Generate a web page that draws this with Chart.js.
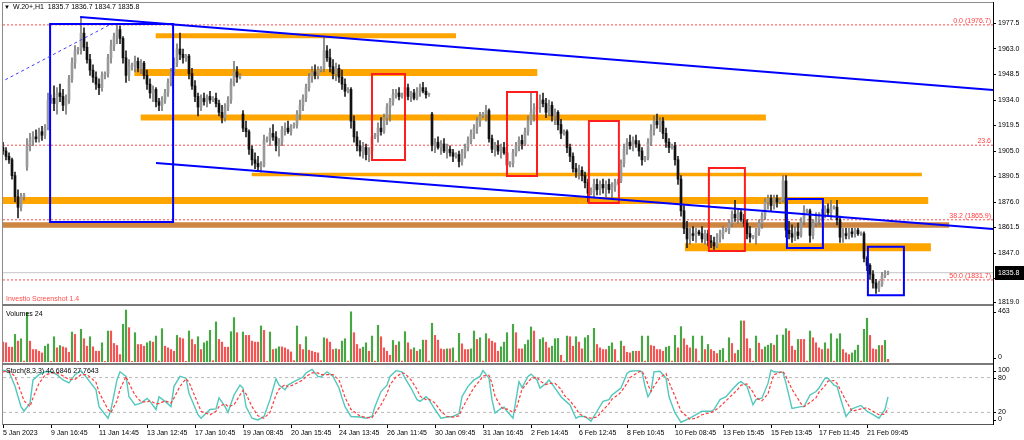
<!DOCTYPE html>
<html><head><meta charset="utf-8">
<script src="https://cdn.jsdelivr.net/npm/chart.js"></script>
<style>
html,body{margin:0;padding:0;background:#fff}
body{position:relative;width:1024px;height:440px;overflow:hidden;font-family:"Liberation Sans",Arial,sans-serif}
canvas{position:absolute;left:0}
.t{position:absolute;font-size:7px;line-height:8px;white-space:nowrap;color:#000}
.ln{position:absolute}
</style></head><body>
<canvas id="cMain" width="1024" height="306" style="top:0px"></canvas>
<canvas id="cVol" width="1024" height="56" style="top:307px"></canvas>
<canvas id="cSto" width="1024" height="76" style="top:364px"></canvas>
<div class="ln" style="left:2px;top:2px;width:992px;height:1px;background:#8c8c8c"></div>
<div class="ln" style="left:2px;top:2px;width:1px;height:423px;background:#8c8c8c"></div>
<div class="ln" style="left:2px;top:304px;width:992px;height:2px;background:#7a7a7a"></div>
<div class="ln" style="left:2px;top:363px;width:992px;height:2px;background:#7a7a7a"></div>
<div class="ln" style="left:993px;top:2px;width:1px;height:423px;background:#000"></div>
<div class="t" style="left:4px;top:3px;font-size:6px">&#9660;</div>
<div class="t" style="left:13px;top:3px">W.20+,H1&nbsp; 1835.7 1836.7 1834.7 1835.8</div>
<div class="t" style="left:6px;top:295px;color:#ff4d4d">Investio Screenshot 1.4</div>
<div class="t" style="left:6px;top:310px">Volumes 24</div>
<div class="t" style="left:6px;top:367px">Stoch(8,3,3) 46.6846 27.7643</div>
<script>
// ---------------- DATA ----------------
const opens = [1907,1905,1902,1900,1891,1879,1873,1879,
1896,1908,1911,1913,1912,1916,1914,1918,1934,
1935,1932,1938,1936,1931,1934,1946,1955,1962,
1963,1972,1964,1957,1951,1947,1943,1941,1948,
1949,1958,1965,1970,1974,1969,1958,1948,1953,
1954,1956,1952,1955,1948,1943,1938,1940,1933,
1931,1934,1938,1944,1950,1955,1963,1960,1958,
1959,1949,1942,1936,1930,1935,1933,1936,1934,
1935,1932,1927,1924,1930,1934,1944,1950,1947,
1926,1918,1916,1906,1900,1898,1896,1897,1911,
1912,1915,1913,1908,1910,1917,1918,1916,1919,
1920,1926,1931,1935,1941,1947,1950,1948,1951,
1952,1962,1958,1953,1949,1952,1947,1943,1939,
1940,1922,1913,1908,1905,1907,1903,1905,1913,
1914,1918,1916,1924,1930,1933,1937,1938,1936,
1937,1941,1936,1938,1935,1939,1941,1939,1937,
1926,1908,1910,1907,1909,1905,1906,1904,1902,
1903,1899,1904,1907,1911,1915,1918,1922,1925,
1926,1928,1912,1906,1908,1905,1907,1904,1897,
1898,1904,1908,1911,1909,1916,1922,1927,1929,
1930,1934,1932,1927,1931,1925,1927,1920,1915,
1916,1907,1902,1895,1893,1894,1891,1887,1881,
1882,1886,1883,1886,1884,1886,1883,1885,1887,
1888,1898,1906,1910,1908,1911,1909,1905,1900,
1901,1910,1917,1922,1920,1922,1915,1910,1907,
1908,1900,1889,1871,1861,1855,1858,1857,1859,
1858,1855,1858,1854,1853,1851,1856,1858,1860,
1860,1864,1869,1867,1870,1866,1864,1858,1856,
1856,1859,1864,1868,1876,1878,1874,1878,1876,
1877,1888,1860,1858,1856,1859,1857,1865,1871,
1871,1857,1864,1866,1868,1870,1872,1870,1873,
1873,1866,1856,1858,1857,1859,1858,1860,1858,
1858,1844,1840,1835,1830,1827,1829,1834,1835.7];

const highs = [1910,1907,1904,1901,1893,1883,1881,1881,
1912,1915,1916,1917,1918,1919,1920,1938,1937,
1942,1941,1943,1940,1937,1948,1958,1965,1964,
1981,1975,1967,1960,1954,1950,1946,1950,1950,
1960,1968,1972,1977,1976,1970,1962,1957,1955,
1959,1958,1957,1956,1951,1946,1942,1941,1935,
1936,1940,1946,1952,1958,1966,1972,1963,1960,
1960,1952,1945,1938,1937,1938,1937,1939,1936,
1938,1934,1931,1932,1936,1946,1956,1953,1949,
1928,1922,1917,1908,1904,1902,1899,1914,1913,
1918,1920,1916,1912,1919,1921,1922,1920,1921,
1928,1934,1937,1943,1949,1953,1954,1953,1953,
1969,1965,1963,1957,1955,1954,1951,1946,1941,
1941,1925,1916,1911,1910,1909,1907,1915,1915,
1921,1924,1926,1932,1935,1940,1940,1941,1938,
1944,1943,1939,1940,1941,1943,1944,1941,1938,
1927,1912,1913,1911,1912,1909,1908,1906,1904,
1905,1906,1909,1913,1917,1920,1924,1927,1927,
1931,1929,1914,1910,1911,1909,1910,1905,1899,
1906,1910,1913,1914,1918,1925,1939,1932,1931,
1937,1938,1935,1934,1933,1929,1928,1923,1917,
1917,1909,1904,1898,1897,1896,1893,1889,1884,
1889,1889,1888,1889,1888,1889,1887,1889,1889,
1900,1909,1912,1914,1913,1914,1911,1907,1902,
1912,1920,1925,1926,1924,1924,1918,1912,1909,
1910,1902,1891,1874,1865,1861,1862,1861,1860,
1862,1860,1860,1857,1856,1858,1860,1862,1861,
1866,1871,1877,1872,1872,1869,1866,1862,1857,
1861,1866,1870,1878,1880,1880,1880,1880,1878,
1891,1891,1865,1863,1862,1864,1867,1874,1872,
1872,1866,1870,1870,1872,1874,1875,1877,1874,
1877,1868,1861,1861,1861,1861,1861,1861,1859,
1859,1845,1841,1837,1832,1831,1836,1837,1836.7];

const lows = [1903,1900,1898,1889,1876,1867,1871,1877,
1894,1905,1908,1910,1910,1911,1912,1917,1932,
1928,1926,1933,1928,1926,1932,1944,1952,1960,
1960,1962,1955,1948,1944,1940,1937,1939,1946,
1947,1955,1962,1966,1966,1955,1944,1945,1951,
1950,1950,1949,1946,1940,1935,1933,1930,1928,
1928,1932,1936,1942,1948,1953,1957,1955,1956,
1946,1940,1933,1925,1928,1931,1930,1932,1933,
1930,1925,1921,1922,1928,1932,1942,1944,1946,
1916,1913,1903,1897,1895,1894,1893,1896,1910,
1908,1911,1905,1902,1908,1914,1915,1914,1918,
1918,1923,1928,1933,1939,1944,1946,1946,1950,
1950,1956,1950,1946,1945,1944,1940,1936,1938,
1918,1910,1905,1902,1901,1900,1899,1904,1912,
1910,1914,1915,1920,1922,1931,1935,1934,1935,
1935,1934,1933,1934,1934,1936,1938,1935,1936,
1905,1904,1906,1903,1904,1901,1902,1899,1901,
1896,1897,1901,1905,1909,1912,1915,1919,1924,
1922,1910,1904,1902,1903,1901,1903,1892,1896,
1896,1902,1905,1906,1908,1914,1920,1922,1928,
1927,1930,1924,1925,1922,1920,1917,1912,1914,
1904,1899,1893,1890,1889,1888,1884,1876,1880,
1879,1880,1880,1881,1879,1881,1878,1882,1886,
1887,1896,1903,1906,1905,1907,1902,1897,1899,
1900,1908,1914,1918,1916,1912,1907,1904,1906,
1897,1886,1868,1858,1850,1852,1854,1853,1857,
1853,1852,1851,1850,1849,1850,1853,1855,1859,
1858,1862,1865,1864,1865,1862,1855,1853,1855,
1852,1857,1861,1866,1872,1871,1872,1873,1875,
1876,1856,1855,1853,1854,1855,1856,1863,1870,
1853,1855,1862,1863,1865,1867,1868,1866,1872,
1863,1853,1853,1855,1855,1856,1856,1857,1857,
1842,1837,1832,1827,1824,1825,1828,1833,1834.7];

const closes = [1905,1902,1900,1891,1879,1873,1879,1880,
1908,1911,1913,1912,1916,1914,1918,1934,1935,
1932,1938,1936,1931,1934,1946,1955,1962,1963,
1972,1964,1957,1951,1947,1943,1941,1948,1949,
1958,1965,1970,1974,1969,1958,1948,1953,1954,
1956,1952,1955,1948,1943,1938,1940,1933,1931,
1934,1938,1944,1950,1955,1963,1960,1958,1959,
1949,1942,1936,1930,1935,1933,1936,1934,1935,
1932,1927,1924,1930,1934,1944,1950,1947,1948,
1918,1916,1906,1900,1898,1896,1897,1911,1912,
1915,1913,1908,1910,1917,1918,1916,1919,1920,
1926,1931,1935,1941,1947,1950,1948,1951,1952,
1962,1958,1953,1949,1952,1947,1943,1939,1940,
1922,1913,1908,1905,1907,1903,1905,1913,1914,
1918,1916,1924,1930,1933,1937,1938,1936,1937,
1941,1936,1938,1935,1939,1941,1939,1937,1937,
1908,1910,1907,1909,1905,1906,1904,1902,1903,
1899,1904,1907,1911,1915,1918,1922,1925,1926,
1928,1912,1906,1908,1905,1907,1904,1897,1898,
1904,1908,1911,1909,1916,1922,1927,1929,1930,
1934,1932,1927,1931,1925,1927,1920,1915,1916,
1907,1902,1895,1893,1894,1891,1887,1881,1882,
1886,1883,1886,1884,1886,1883,1885,1887,1888,
1898,1906,1910,1908,1911,1909,1905,1900,1901,
1910,1917,1922,1920,1922,1915,1910,1907,1908,
1900,1889,1871,1861,1855,1858,1857,1859,1858,
1855,1858,1854,1853,1851,1856,1858,1860,1860,
1864,1869,1867,1870,1866,1864,1858,1856,1856,
1859,1864,1868,1876,1878,1874,1878,1876,1877,
1888,1860,1858,1856,1859,1857,1865,1871,1871,
1857,1864,1866,1868,1870,1872,1870,1873,1873,
1866,1856,1858,1857,1859,1858,1860,1858,1858,
1844,1840,1835,1830,1827,1829,1834,1835,1835.8];

const volumes = [177,171,132,132,246,186,207,8,
441,186,111,111,96,81,141,160,6,
225,126,147,135,126,87,267,246,6,
291,207,141,225,135,96,96,171,6,
276,276,165,147,66,336,463,306,6,
261,156,156,141,171,186,177,231,8,
297,141,126,111,96,237,216,207,6,
276,201,156,225,111,171,186,282,12,
357,201,177,132,132,270,396,261,6,
267,237,237,186,177,177,321,282,6,
267,111,117,135,135,126,111,90,12,
321,156,111,225,105,96,87,81,12,
216,207,177,111,117,111,186,207,8,
447,261,156,117,132,171,96,231,8,
327,225,126,96,60,192,150,180,8,
270,171,111,126,96,111,195,195,8,
345,237,195,117,111,117,117,126,8,
255,162,111,111,117,276,201,216,8,
252,207,186,171,96,135,177,261,8,
336,261,117,117,156,195,312,276,8,
201,216,177,126,141,207,210,60,8,
231,225,141,225,177,117,216,237,8,
300,156,126,111,111,141,171,111,8,
186,141,87,81,96,96,96,231,8,
231,147,141,111,111,96,132,141,8,
237,126,315,207,150,126,231,117,8,
231,111,156,111,96,75,105,120,8,
216,165,75,105,366,366,207,120,8,
231,168,111,135,150,165,150,240,8,
240,297,276,141,105,201,201,201,8,
276,216,171,126,111,171,117,252,8,
207,252,111,81,66,81,105,150,8,
291,390,237,117,111,147,147,192,24];

const stochIdx = [0,2,4,6,7,9,10,12,14,16,
18,20,22,24,26,28,31,32,35,36,
38,39,41,42,44,46,48,49,51,52,
54,56,57,59,61,62,65,66,69,71,
72,74,75,77,79,80,81,83,85,87,
89,91,92,94,95,97,100,101,103,105,
106,108,110,112,113,114,116,119,121,123,
124,126,128,129,131,133,134,136,138,139,
141,142,144,146,148,150,152,153,155,157,
159,160,162,163,164,166,167,168,170,171,
172,173,175,176,178,179,181,182,184,186,
187,189,191,192,194,196,198,200,202,203,
205,206,208,209,212,213,214,215,216,217,
219,221,222,224,226,229,231,233,236,237,
239,241,243,245,246,248,250,251,253,255,
256,257,260,261,263,266,267,269,271,272,
274,275,277,278,279,281,283,286,288,290,
292,294,295];
const stochMain = [93,90,65,30,22,36,76,85,90,90,
85,76,71,85,92,79,59,30,10,25,
76,90,82,47,33,36,44,39,25,47,
39,30,65,82,79,53,16,10,25,26,
45,30,20,50,67,62,30,10,7,13,
42,78,67,59,67,73,81,88,94,82,
81,90,82,62,45,30,13,12,10,13,
30,56,67,82,92,90,79,62,42,39,
47,42,25,10,12,13,18,47,65,76,
82,92,79,42,19,27,29,22,10,42,
73,63,82,86,76,62,70,76,62,47,
42,33,10,13,13,5,22,39,42,50,
58,62,87,91,92,90,65,47,56,90,
91,79,47,19,3,10,16,22,22,25,
42,47,59,70,73,65,33,42,45,70,
93,90,89,70,27,30,30,50,56,62,
79,79,67,65,47,13,26,32,22,16,
10,25,46.7];
const stochSignal = [90,91,82,55,40,30,45,70,84,88,
88,83,77,77,85,85,72,55,25,20,
40,60,82,70,50,38,38,40,35,35,
40,36,45,65,78,72,35,22,16,22,
30,35,30,33,50,58,52,30,14,10,
20,50,60,68,64,68,76,82,88,88,
85,85,85,76,62,46,25,14,11,11,
18,33,52,68,81,88,87,76,60,48,
42,43,36,22,13,12,14,26,45,63,
75,83,84,70,48,30,25,26,20,25,
42,60,72,78,81,74,68,70,70,60,
50,40,27,18,12,10,12,24,35,43,
50,55,70,80,90,91,82,68,56,65,
80,87,72,48,22,8,10,16,20,22,
30,40,50,60,67,69,55,45,40,52,
70,85,91,82,60,35,30,37,45,55,
66,74,75,70,60,40,22,26,28,22,
16,17,27.8];

const xTickIdx = [0,16,32,48,64,80,96,112,128,144,160,176,192,208,224,240,256,272,288];
const xTickLabels = ['5 Jan 2023','9 Jan 16:45','11 Jan 14:45','13 Jan 12:45','17 Jan 10:45','19 Jan 08:45','20 Jan 15:45','24 Jan 13:45','26 Jan 11:45','30 Jan 09:45','31 Jan 16:45','2 Feb 14:45','6 Feb 12:45','8 Feb 10:45','10 Feb 08:45','13 Feb 15:45','15 Feb 13:45','17 Feb 11:45','21 Feb 09:45'];
const priceTicks = [1977.5,1963.0,1948.5,1934.0,1919.5,1905.0,1890.5,1876.0,1861.5,1847.0,1832.5,1819.0];
const volTickValues = [463,0];
const volTickLabels = ['463','0'];
const stochTickValues = [100,80,20,0];
const stochTickLabels = ['100','80','20','0'];
const stochLevels = [80,20];

const fibPrices = [1976.7,1908.3,1865.9,1831.7];
const fibLabels = ['0.0 (1976.7)','23.6','38.2 (1865.9)','50.0 (1831.7)'];
// horizontal zones: price level, from candle, to candle
const zoneLevel = [1970.5,1949.6,1924.1,1891.7,1876.8,1862.9,1850.3];
const zoneFrom  = [50.9,43.8,45.9,82.9,-1,-1,227.3];
const zoneTo    = [151,178.1,254.3,306.3,308.4,315.4,309.3];
// boxes: from candle, to candle, top price, bottom price
const redBoxes  = [[123,134,1948.8,1899.9],[168,178,1938.6,1890.8],[195.3,205.3,1922.1,1875.5],[235.3,247.3,1895.4,1848.1]];
const blueBoxes = [[15.7,56.7,1977.2,1864.7],[261.3,273.3,1877.7,1849.9],[288.3,300.3,1850.6,1823.0]];
// trend lines: x1, y1, x2, y2
const trendLines = [[25.7,1981.2,330,1939.7],[51,1898.2,330,1860.7]];
const fibBase = [-1,1943.9,35.7,1976.9];

// ---------------- STYLE ----------------
const X_MIN = 0, X_MAX = 330;
const P_MIN = 1817.45, P_MAX = 1989.15;
const FONT = '7px "Liberation Sans", Arial, sans-serif';
const zoneColor = ['#ffa500','#ffa500','#ffa500','#ffa500','#ffa500','#cd853f','#ffa500'];
const zoneWidth = [5,7,6,3.5,7,5.5,8];
const BULL = '#9a9a9a', BEAR = '#111111', BULL_W = '#7a7a7a', BEAR_W = '#222222';
const VOL_UP = '#45a845', VOL_DN = '#f45454';

Chart.defaults.font.family = '"Liberation Sans", Arial, sans-serif';
Chart.defaults.font.size = 7;
Chart.defaults.color = '#000';

const idx = closes.map((c, i) => i);
const last = closes.length - 1;

function seg(pts, color, width, dash, order, cap) {
  return {type: 'line', data: pts, borderColor: color, borderWidth: width, borderDash: dash || [],
    pointRadius: 0, pointHoverRadius: 0, fill: false, tension: 0, order: order,
    borderCapStyle: cap || 'butt', borderJoinStyle: 'miter'};
}
function box(b) {
  return [{x:b[0],y:b[2]},{x:b[1],y:b[2]},{x:b[1],y:b[3]},{x:b[0],y:b[3]},{x:b[0],y:b[2]}];
}
function yAxisFit(scale) { scale.width = 31; scale.paddingTop = 0; scale.paddingBottom = 0; }

const mainDatasets = [];
fibPrices.forEach(p => mainDatasets.push(seg([{x:X_MIN,y:p},{x:X_MAX,y:p}], '#ff4a4a', 1, [2,2], 12)));
mainDatasets.push(seg([{x:X_MIN,y:closes[last]},{x:X_MAX,y:closes[last]}], '#c4c4c4', 1, [], 11));
zoneLevel.forEach((p, k) => mainDatasets.push(seg([{x:zoneFrom[k],y:p},{x:zoneTo[k],y:p}], zoneColor[k], zoneWidth[k], [], 9)));
mainDatasets.push({type:'bar', data: idx.map(i => ({x:i, y:[lows[i], highs[i]]})), barThickness: 1, grouped: false,
  backgroundColor: c => closes[c.dataIndex] >= opens[c.dataIndex] ? BULL_W : BEAR_W, order: 4});
mainDatasets.push({type:'bar', data: idx.map(i => ({x:i, y:[opens[i], closes[i]]})), barThickness: 2, minBarLength: 1, grouped: false,
  backgroundColor: c => closes[c.dataIndex] >= opens[c.dataIndex] ? BULL : BEAR, order: 3});
redBoxes.forEach(b => mainDatasets.push(seg(box(b), '#ff1e1e', 2, [], 1, 'square')));
blueBoxes.forEach(b => mainDatasets.push(seg(box(b), '#0000ff', 2, [], 1, 'square')));
trendLines.forEach(t => mainDatasets.push(seg([{x:t[0],y:t[1]},{x:t[2],y:t[3]}], '#0000ff', 2, [], 0)));
mainDatasets.push(seg([{x:fibBase[0],y:fibBase[1]},{x:fibBase[2],y:fibBase[3]}], '#3c3cff', 1, [3,3], 0));

const mainText = {
  id: 'mainText',
  afterDraw(chart) {
    const {ctx, chartArea} = chart, y = chart.scales.y;
    ctx.save();
    ctx.font = FONT;
    ctx.fillStyle = '#ff3b3b';
    ctx.textAlign = 'right';
    ctx.textBaseline = 'bottom';
    fibPrices.forEach((p, k) => ctx.fillText(fibLabels[k], chartArea.right - 2, y.getPixelForValue(p) - 0.5));
    const py = y.getPixelForValue(closes[last]);
    ctx.fillStyle = '#000';
    ctx.fillRect(y.left + 2, Math.round(py) - 7, 31, 14);
    ctx.fillStyle = '#fff';
    ctx.textAlign = 'left';
    ctx.textBaseline = 'middle';
    ctx.fillText(closes[last].toFixed(1), y.left + 5, py + 0.5);
    ctx.restore();
  }
};

const sideLabels = {
  id: 'sideLabels',
  afterDraw(chart, args, opts) {
    if (!opts || !opts.values) return;
    const s = chart.scales.y, a = chart.chartArea, ctx = chart.ctx;
    ctx.save();
    ctx.font = FONT; ctx.fillStyle = '#000'; ctx.strokeStyle = '#000'; ctx.lineWidth = 1;
    ctx.textAlign = 'left'; ctx.textBaseline = 'middle';
    opts.values.forEach((v, k) => {
      let py = s.getPixelForValue(v);
      py = Math.min(Math.max(py, a.top + 4.5), a.bottom - 4.5);
      const ry = Math.round(py) + 0.5;
      ctx.beginPath(); ctx.moveTo(s.left, ry); ctx.lineTo(s.left + 3, ry); ctx.stroke();
      ctx.fillText(opts.labels[k], s.left + 5, py);
    });
    ctx.restore();
  }
};

const common = {responsive: false, animation: false, events: [],
  plugins: {legend: {display: false}, tooltip: {enabled: false}}};

new Chart(document.getElementById('cMain'), {
  type: 'bar',
  data: {datasets: mainDatasets},
  plugins: [mainText],
  options: Object.assign({}, common, {
    layout: {padding: {left: 3, right: 0, top: 3, bottom: 1}},
    scales: {
      x: {type: 'linear', display: false, min: X_MIN, max: X_MAX, offset: false, grid: {offset: false}},
      y: {type: 'linear', position: 'right', min: P_MIN, max: P_MAX,
        afterBuildTicks: s => { s.ticks = priceTicks.map(v => ({value: v})); },
        afterFit: yAxisFit,
        ticks: {autoSkip: false, padding: 2, font: {size: 7}, color: '#000', callback: v => Number(v).toFixed(1)},
        grid: {drawOnChartArea: false, drawTicks: true, tickLength: 3, tickColor: '#000'},
        border: {display: true, color: '#000'}}
    }
  })
});

new Chart(document.getElementById('cVol'), {
  type: 'bar',
  data: {datasets: [{data: idx.map(i => ({x: i, y: volumes[i]})), barThickness: 1.5, grouped: false,
    backgroundColor: c => (c.dataIndex > 0 && volumes[c.dataIndex] > volumes[c.dataIndex - 1]) ? VOL_UP : VOL_DN}]},
  plugins: [sideLabels],
  options: Object.assign({}, common, {
    plugins: {legend: {display: false}, tooltip: {enabled: false}, sideLabels: {values: volTickValues, labels: volTickLabels}},
    layout: {padding: {left: 3, right: 0, top: 0, bottom: 1}},
    scales: {
      x: {type: 'linear', display: false, min: X_MIN, max: X_MAX, offset: false, grid: {offset: false}},
      y: {type: 'linear', position: 'right', min: 0, max: 490, afterFit: yAxisFit,
        ticks: {display: false}, grid: {display: false}, border: {display: true, color: '#000'}}
    }
  })
});

const stochDatasets = [];
stochLevels.forEach(l => stochDatasets.push(seg([{x:X_MIN,y:l},{x:X_MAX,y:l}], '#b8b8b8', 1, [3,3], 5)));
stochDatasets.push(seg(stochIdx.map((x, k) => ({x: x, y: stochMain[k]})), '#52c8bd', 1.4, [], 2));
stochDatasets.push(seg(stochIdx.map((x, k) => ({x: x, y: stochSignal[k]})), '#ff3c3c', 1.2, [3,2], 1));

new Chart(document.getElementById('cSto'), {
  type: 'line',
  data: {datasets: stochDatasets},
  plugins: [sideLabels],
  options: Object.assign({}, common, {
    plugins: {legend: {display: false}, tooltip: {enabled: false}, sideLabels: {values: stochTickValues, labels: stochTickLabels}},
    layout: {padding: {left: 3, right: 0, top: 2, bottom: 0}},
    scales: {
      x: {type: 'linear', position: 'bottom', min: X_MIN, max: X_MAX, offset: false,
        afterBuildTicks: s => { s.ticks = xTickIdx.map(v => ({value: v})); },
        afterFit: s => { s.height = 16; s.paddingLeft = 0; s.paddingRight = 0; },
        ticks: {autoSkip: false, maxRotation: 0, minRotation: 0, align: 'start', padding: 1, font: {size: 7}, color: '#000',
          callback: v => xTickLabels[xTickIdx.indexOf(v)]},
        grid: {drawOnChartArea: false, drawTicks: true, tickLength: 4, tickColor: '#000', offset: false},
        border: {display: true, color: '#555'}},
      y: {type: 'linear', position: 'right', min: 0, max: 100, afterFit: yAxisFit,
        ticks: {display: false}, grid: {display: false}, border: {display: true, color: '#000'}}
    }
  })
});
</script>
</body></html>
